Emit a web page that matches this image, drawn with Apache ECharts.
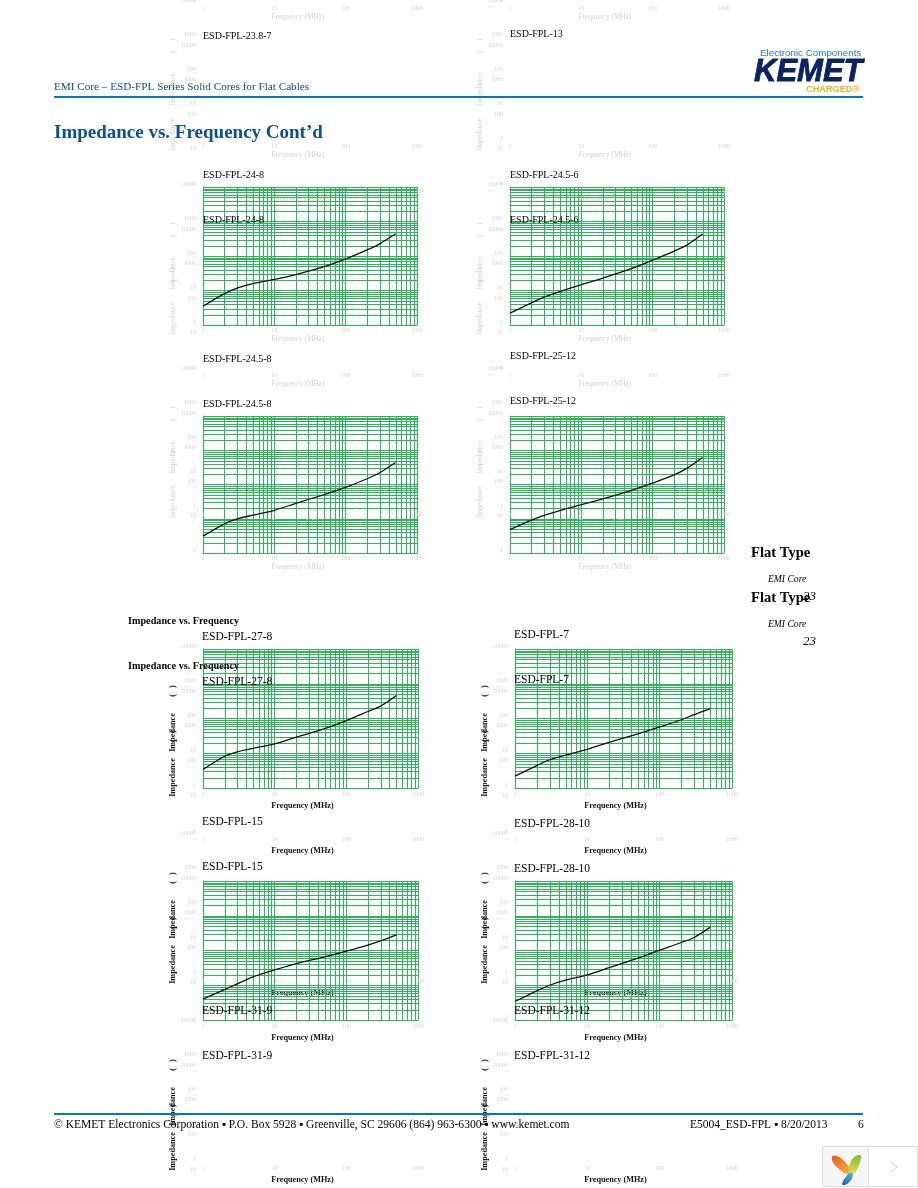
<!DOCTYPE html>
<html><head><meta charset="utf-8">
<style>html,body{margin:0;padding:0;background:#fff}#c{width:918px;height:1188px}</style>
<script src="https://cdn.jsdelivr.net/npm/echarts@6/dist/echarts.min.js"></script>
</head><body><div id="c"></div>
<script>
// ---- data ----
const frequencyMHz = [1, 2, 3, 5, 10, 20, 50, 100, 200, 300, 500];
const z_24_8   = [3.5, 8.1, 11.8, 15.9, 21, 29, 49, 82, 150, 225, 440];
const z_24_5_6 = [2.2, 4.4, 6.4, 9.3, 14.8, 23, 43, 76, 139, 207, 436];
const z_24_5_8 = [3.1, 7.1, 9.9, 12.7, 17.7, 28, 51, 83, 147, 220, 437];
const z_25_12  = [4.8, 9.1, 12.6, 17.4, 25.7, 38, 66, 110, 190, 295, 617];
const z_27_8   = [3.4, 8.2, 10.9, 13.9, 18.6, 29, 51, 87, 159, 227, 460];
const z_7      = [2.2, 4.4, 6.5, 8.9, 13, 20.6, 36, 57, 92, 129, 192];
const z_15     = [4, 7.5, 11, 17.4, 27.5, 42, 66, 96, 143, 188, 280];
const z_28_10  = [3.4, 6.9, 10, 14, 20, 32, 60, 102, 170, 237, 470];
const xMinorTicks = [2,3,4,5,6,7,8,9,20,30,40,50,60,70,80,90,200,300,400,500,600,700,800,900];
const yMinorTicks = [2,3,4,5,6,7,8,9,20,30,40,50,60,70,80,90,200,300,400,500,600,700,800,900,2000,3000,4000,5000,6000,7000,8000,9000];
const xName = 'Frequency (MHz)';
const nb = n => '\u00A0'.repeat(n);
const yNameLight = 'Impedance' + nb(11) + '(' + nb(5) + ')';
const yNameDark  = 'Impedance' + nb(8) + '(' + nb(3) + ')';

// frame: [left, top, width, height, curve or null, dark labels?]
const frames = [
  [203,-135,214,138,null,0],[510,-135,214,138,null,0],
  [203,3,214,138,null,0],[510,3,214,138,null,0],
  [203,48,214,138,null,0],[510,48,214,138,null,0],
  [203,187,214,138,z_24_8,0],[510,187,214,138,z_24_5_6,0],
  [203,232,214,138,null,0],[510,232,214,138,null,0],
  [203,371,214,138,null,0],[510,371,214,138,null,0],
  [203,416,214,137,z_24_5_8,0],[510,416,214,137,z_25_12,0],
  [203,649,215,139,z_27_8,1],[515,649,217,139,z_7,1],
  [203,694,215,139,null,1],[515,694,217,139,null,1],
  [203,836,215,139,null,1],[515,836,217,139,null,1],
  [203,881,215,139,z_15,1],[515,881,217,139,z_28_10,1],
  [203,1023,215,139,null,1],[515,1023,217,139,null,1],
  [203,1068,215,139,null,1],[515,1068,217,139,null,1]
];
// chart names: [text, left, centre y, font size]
const chartNames = [
  ['ESD-FPL-23.8-7',203,36,10],['ESD-FPL-13',510,34,10],
  ['ESD-FPL-24-8',203,175,10],['ESD-FPL-24-8',203,220,10],
  ['ESD-FPL-24.5-6',510,175,10],['ESD-FPL-24.5-6',510,220,10],
  ['ESD-FPL-24.5-8',203,359,10],['ESD-FPL-24.5-8',203,404,10],
  ['ESD-FPL-25-12',510,356,10],['ESD-FPL-25-12',510,401,10],
  ['ESD-FPL-27-8',202,637,11.5],['ESD-FPL-27-8',202,682,11.5],
  ['ESD-FPL-7',514,635,11.5],['ESD-FPL-7',514,680,11.5],
  ['ESD-FPL-15',202,822,11.5],['ESD-FPL-15',202,867,11.5],
  ['ESD-FPL-28-10',514,824,11.5],['ESD-FPL-28-10',514,869,11.5],
  ['ESD-FPL-31-9',202,1011,11.5],['ESD-FPL-31-9',202,1056,11.5],
  ['ESD-FPL-31-12',514,1011,11.5],['ESD-FPL-31-12',514,1056,11.5]
];

const GREEN = '#2DB35A', FAINT = '#d2d2d2', SERIF = '"Liberation Serif","Times New Roman",serif';
const X_MIN = 1, X_MAX = 1000, Y_MIN = 1, Y_MAX = 10000;
const grid = [], xAxis = [], yAxis = [], series = [];
const plain = v => String(Math.round(v));
const minorData = xMinorTicks.map(v => [v, Y_MIN, 0]).concat(yMinorTicks.map(v => [X_MIN, v, 1]));
const renderMinor = (params, api) => {
  const vertical = api.value(2) === 0;
  const a = api.coord([api.value(0), api.value(1)]);
  const b = vertical ? api.coord([api.value(0), Y_MAX]) : api.coord([X_MAX, api.value(1)]);
  const snap = p => Math.round(p) + 0.5;
  const shape = vertical ? {x1:snap(a[0]), y1:a[1], x2:snap(a[0]), y2:b[1]}
                         : {x1:a[0], y1:snap(a[1]), x2:b[0], y2:snap(a[1])};
  return {type:'line', shape, style:{stroke:GREEN, lineWidth:1, fill:null}, silent:true};
};
frames.forEach((f, i) => {
  const [left, top, width, height, curve, dark] = f;
  grid.push({left, top, width, height, containLabel:false, outerBoundsMode:'none'});
  const nameStyle = {fontFamily:SERIF, fontSize: dark ? 8.2 : 7.4, fontWeight: dark ? 'bold' : 'normal', color: dark ? '#111' : FAINT};
  const label = {color:FAINT, fontFamily:SERIF, fontSize:6, formatter:plain};
  xAxis.push({type:'log', logBase:10, gridIndex:i, min:X_MIN, max:X_MAX,
    name:xName, nameLocation:'middle', nameGap: dark ? 14 : 11,
    nameTextStyle:Object.assign({padding:[0, dark ? 16 : 24, 0, 0]}, nameStyle),
    axisLine:{show:!!curve, lineStyle:{color:GREEN, width:1}}, axisTick:{show:false},
    axisLabel:Object.assign({margin: dark ? 3 : 2}, label),
    splitLine:{show:!!curve, lineStyle:{color:GREEN, width:1}}, minorSplitLine:{show:false}});
  yAxis.push({type:'log', logBase:10, gridIndex:i, min:Y_MIN, max:Y_MAX,
    name: dark ? yNameDark : yNameLight, nameLocation:'middle', nameRotate:90, nameGap: dark ? 23 : 26,
    nameTextStyle:nameStyle,
    axisLine:{show:!!curve, lineStyle:{color:GREEN, width:1}}, axisTick:{show:false},
    axisLabel:Object.assign({margin:7, verticalAlign:'bottom'}, label),
    splitLine:{show:!!curve, lineStyle:{color:GREEN, width:1}}, minorSplitLine:{show:false}});
  series.push({type:'line', xAxisIndex:i, yAxisIndex:i, smooth:0.3, symbol:'none', z:5,
    lineStyle:{color:'#111', width:1.3},
    data: curve ? frequencyMHz.map((x, k) => [x, curve[k]]) : []});
  if (curve) series.push({type:'custom', xAxisIndex:i, yAxisIndex:i, z:3, silent:true, clip:false,
    renderItem:renderMinor, data:minorData, encode:{x:0, y:1}});
});
const title = chartNames.map(([text, left, cy, size]) => ({text, left, top:cy - size/2 - 0.5, padding:0, z:8,
  textStyle:{fontFamily:SERIF, fontSize:size, fontWeight:'normal', color:'#000', lineHeight:size+1}}));

const txt = (text, x, y, size, color, extra) => ({type:'text', z:10, x, y,
  style:Object.assign({text, fontFamily:SERIF, fontSize:size, fill:color, verticalAlign:'middle', align:'left'}, extra||{})});
const rect = (x, y, width, height, fill, stroke) => ({type:'rect', z:9, shape:{x, y, width, height},
  style:{fill, stroke:stroke||null, lineWidth:stroke?1:0}});
const leaf = (points, c1, c2, x1, y1, x2, y2) => ({type:'polygon', z:11, shape:{points, smooth:0.6},
  style:{fill:{type:'linear', x:x1, y:y1, x2, y2, colorStops:[{offset:0, color:c1},{offset:1, color:c2}]}}});
const SANS = '"Liberation Sans",Arial,sans-serif';
const graphic = [
  txt('EMI Core \u2013 ESD-FPL Series Solid Cores for Flat Cables',54,87,11.2,'#0B4A8F'),
  rect(54,96,809,2,'#0077C8'),
  txt('Impedance vs. Frequency Cont\u2019d',54,133,19,'#0B4F96',{fontWeight:'bold'}),
  txt('Impedance vs. Frequency',128,621,10.2,'#000',{fontWeight:'bold'}),
  txt('Impedance vs. Frequency',128,666,10.2,'#000',{fontWeight:'bold'}),
  txt('Flat Type',751,553,14.6,'#000',{fontWeight:'bold'}),
  txt('Flat Type',751,598,14.6,'#000',{fontWeight:'bold'}),
  txt('EMI Core',768,579,9.6,'#000',{fontStyle:'italic'}),
  txt('EMI Core',768,624,9.6,'#000',{fontStyle:'italic'}),
  txt('23',803,597,13,'#000',{fontStyle:'italic'}),
  txt('23',803,642,13,'#000',{fontStyle:'italic'}),
  txt('Electronic Components',760,53,9.8,'#1E78C8',{fontFamily:SANS}),
  txt('KEMET',754,72,31,'#0B2265',{fontFamily:SANS,fontWeight:'bold',fontStyle:'italic',stroke:'#0B2265',lineWidth:0.8}),
  txt('CHARGED\u00AE',806,89,9.2,'#F8B217',{fontFamily:SANS,fontWeight:'bold'}),
  rect(54,1113,809,2,'#0077C8'),
  txt('\u00A9 KEMET Electronics Corporation \u25AA P.O. Box 5928 \u25AA Greenville, SC 29606 (864) 963-6300 \u25AA www.kemet.com',54,1125,11.55,'#000'),
  txt('E5004_ESD-FPL \u25AA 8/20/2013',690,1125,11.5,'#000'),
  txt('6',858,1125,11.5,'#000'),
  rect(822.5,1146.5,46,40,'#F5F5F5','#DDDDDD'),
  rect(868.5,1146.5,49,40,'#FFFFFF','#DDDDDD'),
  leaf([[832,1157],[842,1159],[851,1174],[840,1170]],'#E8561E','#F9C23C',0,0,1,1),
  leaf([[860,1155],[859,1165],[852,1174],[850,1163]],'#8DBB2A','#D5DE5B',0,0,0,1),
  leaf([[852,1173],[851,1180],[843,1185],[845,1178]],'#0B63B8','#5CB5E8',0,1,1,0),
  {type:'polyline', z:11, shape:{points:[[891,1162],[897,1167],[891,1172]]}, style:{fill:null, stroke:'#CCCCCC', lineWidth:1}}
];

const chart = echarts.init(document.getElementById('c'), null, {renderer:'canvas', width:918, height:1188});
chart.setOption({animation:false, backgroundColor:'#fff', legend:{show:false}, tooltip:{show:false},
  title, grid, xAxis, yAxis, series, graphic});
</script></body></html>
